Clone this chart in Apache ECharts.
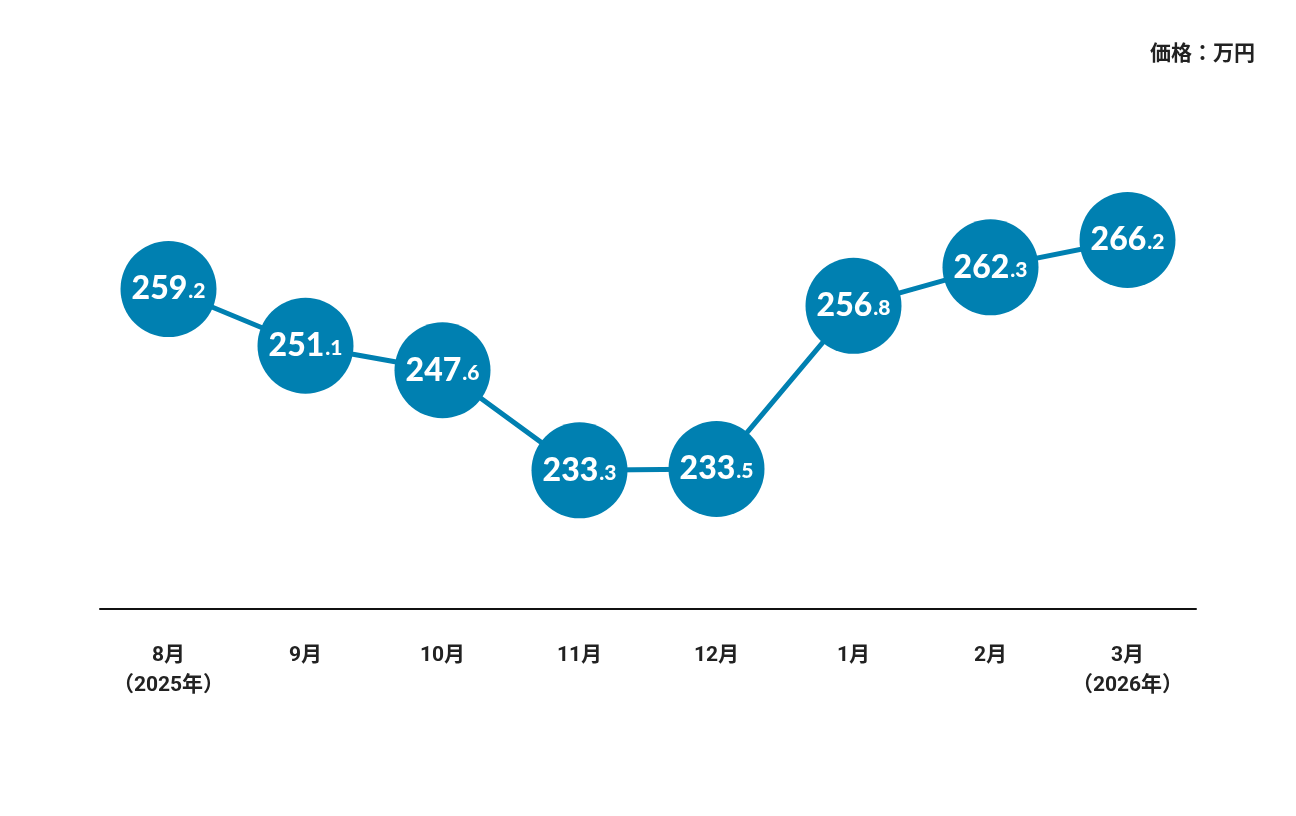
<!DOCTYPE html>
<html><head><meta charset="utf-8">
<script src="https://cdn.jsdelivr.net/npm/echarts@6/dist/echarts.min.js"></script>
<style>html,body{margin:0;padding:0;background:#fff}#c{width:1296px;height:816px}</style>
</head><body><div id="c"></div>
<script>
const categories = ['8月\n（2025年）','9月','10月','11月','12月','1月','2月','3月\n（2026年）'];
const prices = [259.2, 251.1, 247.6, 233.3, 233.5, 256.8, 262.3, 266.2];
const unitLabel = '価格：万円';

const chart = echarts.init(document.getElementById('c'));
chart.setOption({
  backgroundColor: '#fff',
  animation: false,
  title: {
    text: unitLabel, right: 36, top: 39,
    textStyle: {fontFamily: 'Roboto, "Noto Sans CJK JP"', fontSize: 21, fontWeight: 'bold', color: '#222'}
  },
  grid: {left: 100, right: 100, top: 100, bottom: 207},
  xAxis: {
    type: 'category', data: categories, boundaryGap: true,
    axisLine: {lineStyle: {color: '#111', width: 2}},
    axisTick: {show: false},
    axisLabel: {
      interval: 0,
      margin: 32, color: '#222', fontSize: 21, fontWeight: 'bold', lineHeight: 30,
      fontFamily: 'Roboto, "Noto Sans CJK JP"'
    }
  },
  yAxis: {type: 'value', min: 213.5, max: 286.2, show: false},
  series: [{
    type: 'line', data: prices,
    symbol: 'circle', symbolSize: 96, showAllSymbol: true,
    lineStyle: {color: '#0080b1', width: 5},
    itemStyle: {color: '#0080b1'},
    label: {
      show: true, position: 'inside',
      formatter: p => {
        const s = p.value.toFixed(1).split('.');
        return '{a|' + s[0] + '}{b|.' + s[1] + '}';
      },
      rich: {
        a: {fontSize: 32, fontWeight: 900, color: '#fff', fontFamily: 'Lato'},
        b: {fontSize: 21, fontWeight: 900, color: '#fff', fontFamily: 'Lato', padding: [5,0,0,1]}
      }
    }
  }]
});
</script></body></html>
